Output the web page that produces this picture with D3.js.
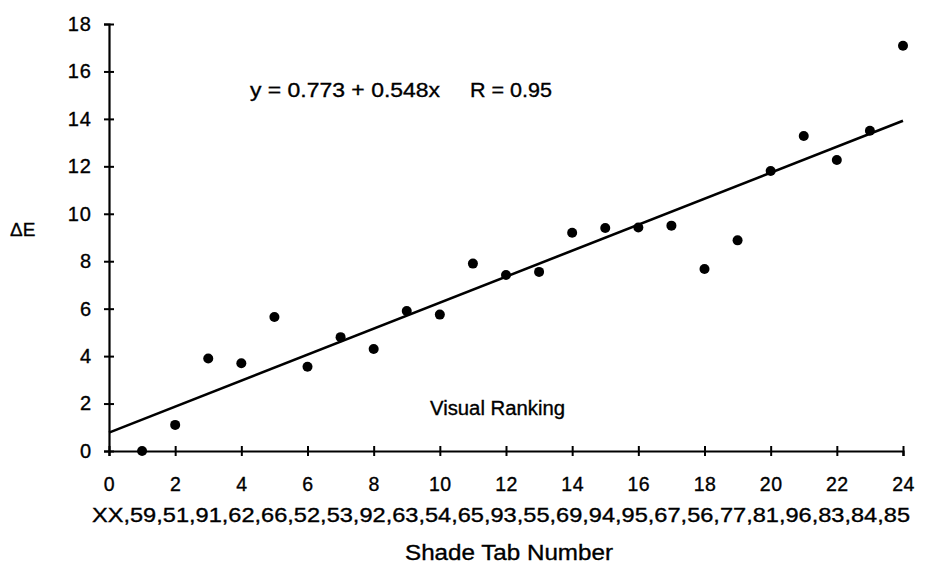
<!DOCTYPE html>
<html>
<head>
<meta charset="utf-8">
<script src="https://cdn.jsdelivr.net/npm/d3@7"></script>
<style>
  body { margin: 0; background: #fff; }
  svg { display: block; font-family: "Liberation Sans", Arial, sans-serif; }
  text { fill: #000; stroke: #000; stroke-width: 0.35px; }
</style>
</head>
<body>
<div id="chart"></div>
<script>
// visual ranking (x) vs colour difference (y)
const ranks = [1, 2, 3, 4, 5, 6, 7, 8, 9, 10, 11, 12, 13, 14, 15, 16, 17, 18, 19, 20, 21, 22, 23, 24];
const deltaE = [0, 1.1, 3.9, 3.7, 5.65, 3.55, 4.8, 4.3, 5.9, 5.75, 7.9, 7.42, 7.55, 9.2, 9.4, 9.42, 9.5, 7.67, 8.88, 11.8, 13.28, 12.27, 13.5, 17.08];
const xTicks = [0, 2, 4, 6, 8, 10, 12, 14, 16, 18, 20, 22, 24];
const yTicks = [0, 2, 4, 6, 8, 10, 12, 14, 16, 18];
const shadeTabs = ["XX", "59", "51", "91", "62", "66", "52", "53", "92", "63", "54", "65", "93", "55", "69", "94", "95", "67", "56", "77", "81", "96", "83", "84", "85"];
const intercept = 0.773;
const slope = 0.548;
const fitLabel = "y = 0.773 + 0.548x";
const rLabel = "R = 0.95";

const width = 925;
const height = 569;

const svg = d3.select("#chart").append("svg")
  .attr("viewBox", [0, 0, width, height])
  .attr("width", width)
  .attr("height", height);

const x = d3.scaleLinear().domain([0, 24]).range([109, 903]);
const y = d3.scaleLinear().domain([0, 18]).range([451, 24]);

// y axis
const yAxis = svg.append("g")
  .attr("transform", `translate(${x(0)},0)`)
  .call(d3.axisLeft(y).tickValues(yTicks).tickSizeOuter(0).tickSize(5).tickPadding(12));
yAxis.select(".domain").attr("stroke-width", 2.2);
yAxis.selectAll(".tick line").attr("x1", 5).attr("x2", -5).attr("stroke-width", 2);
yAxis.selectAll(".tick text")
  .attr("font-size", 20)
  .attr("font-family", "Liberation Sans, Arial, sans-serif")
  .attr("letter-spacing", 1)
  .attr("fill", "#000");

// x axis
const xAxis = svg.append("g")
  .attr("transform", `translate(0,${y(0)})`)
  .call(d3.axisBottom(x).tickValues(xTicks).tickSizeOuter(0).tickSize(5).tickPadding(21));
xAxis.select(".domain").attr("stroke-width", 2.2);
xAxis.selectAll(".tick line").attr("y1", -5).attr("y2", 5).attr("stroke-width", 2);
xAxis.selectAll(".tick text")
  .attr("font-size", 19.5)
  .attr("font-family", "Liberation Sans, Arial, sans-serif")
  .attr("letter-spacing", 0.5)
  .attr("fill", "#000");

// fitted line
svg.append("line")
  .attr("x1", x(0))
  .attr("y1", y(intercept))
  .attr("x2", x(24))
  .attr("y2", y(intercept + slope * 24))
  .attr("stroke", "#000")
  .attr("stroke-width", 2.6);

// points
svg.append("g")
  .selectAll("circle")
  .data(ranks)
  .join("circle")
  .attr("cx", d => x(d))
  .attr("cy", (d, i) => y(deltaE[i]))
  .attr("r", 5)
  .attr("fill", "#000");

// texts
svg.append("text")
  .attr("x", 250)
  .attr("y", 97)
  .attr("font-size", 20)
  .attr("textLength", 190)
  .attr("lengthAdjust", "spacingAndGlyphs")
  .text(fitLabel);

svg.append("text")
  .attr("x", 470)
  .attr("y", 97)
  .attr("font-size", 20)
  .attr("textLength", 82)
  .attr("lengthAdjust", "spacingAndGlyphs")
  .text(rLabel);

svg.append("text")
  .attr("x", 430)
  .attr("y", 415)
  .attr("font-size", 20)
  .attr("textLength", 135)
  .attr("lengthAdjust", "spacingAndGlyphs")
  .text("Visual Ranking");

svg.append("text")
  .attr("x", 10)
  .attr("y", 236)
  .attr("font-size", 19)
  .text("\u0394E");

svg.append("text")
  .attr("x", 92)
  .attr("y", 522)
  .attr("font-size", 20)
  .attr("textLength", 818)
  .attr("lengthAdjust", "spacingAndGlyphs")
  .text(shadeTabs.join(","));

svg.append("text")
  .attr("x", 405)
  .attr("y", 560)
  .attr("font-size", 22)
  .attr("textLength", 208)
  .attr("lengthAdjust", "spacingAndGlyphs")
  .text("Shade Tab Number");
</script>
</body>
</html>
